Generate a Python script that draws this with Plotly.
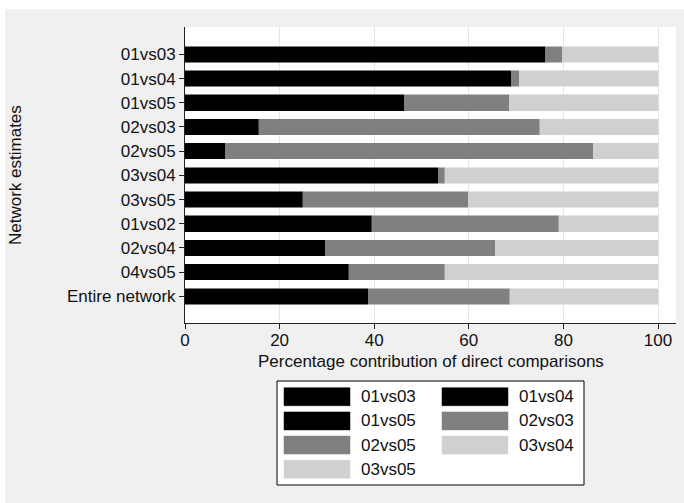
import plotly.graph_objects as go

# Network estimates (rows, top to bottom) and direct comparisons (stack order)
estimates = ["01vs03", "01vs04", "01vs05", "02vs03", "02vs05", "03vs04",
             "03vs05", "01vs02", "02vs04", "04vs05", "Entire network"]
comparisons = ["01vs03", "01vs04", "01vs05", "02vs03", "02vs05", "03vs04", "03vs05"]

# Percentage contribution of each direct comparison to each estimate
c_01vs03 = [54.2, 12.0, 6.0, 6.2, 2.0, 8.0, 6.0, 18.0, 9.0, 3.5, 17.0]
c_01vs04 = [16.6, 54.7, 3.0, 1.6, 0.8, 44.0, 2.5, 6.5, 16.5, 17.0, 12.5]
c_01vs05 = [5.4, 2.3, 37.3, 7.8, 5.7, 1.5, 16.4, 15.0, 4.2, 14.1, 9.2]
c_02vs03 = [2.5, 1.0, 5.2, 50.0, 8.0, 0.9, 9.0, 22.0, 25.0, 4.5, 15.5]
c_02vs05 = [1.0, 0.7, 17.0, 9.4, 69.8, 0.5, 26.0, 17.5, 10.9, 15.8, 14.5]
c_03vs04 = [12.0, 22.0, 4.5, 10.0, 3.2, 40.0, 5.5, 9.0, 28.0, 22.0, 16.5]
c_03vs05 = [8.3, 7.3, 27.0, 15.0, 10.5, 5.1, 34.6, 12.0, 6.4, 23.1, 14.8]

values = [c_01vs03, c_01vs04, c_01vs05, c_02vs03, c_02vs05, c_03vs04, c_03vs05]
colors = ["#000000", "#000000", "#000000", "#808080", "#808080", "#d0d0d0", "#d0d0d0"]

FONT = "Liberation Sans, Arial, Helvetica, sans-serif"
FS = 17
TXT = "#111111"
W, H = 684, 503
L, R, T, B = 185, 8, 27, 180
PW, PH = W - L - R, H - T - B


def px_x(p):
    return (p - L) / PW


def px_y(p):
    return (H - B - p) / PH


fig = go.Figure()
for name, vals, col in zip(comparisons, values, colors):
    fig.add_trace(go.Bar(
        y=estimates, x=vals, name=name, orientation="h",
        marker=dict(color=col, line=dict(color=col, width=0.5)),
        showlegend=False,
    ))

shapes = [
    # white outer strips around the grey page
    dict(type="rect", xref="paper", yref="paper", x0=px_x(0), x1=px_x(W),
         y0=px_y(9), y1=px_y(-2), fillcolor="white", line=dict(width=0), layer="below"),
    dict(type="rect", xref="paper", yref="paper", x0=px_x(-2), x1=px_x(5),
         y0=px_y(H + 2), y1=px_y(-2), fillcolor="white", line=dict(width=0), layer="below"),
]
annotations = []

# legend box
lx0, lx1, ly0, ly1 = 277, 584, 381, 485
shapes.append(dict(type="rect", xref="paper", yref="paper",
                   x0=px_x(lx0), x1=px_x(lx1), y0=px_y(ly1), y1=px_y(ly0),
                   fillcolor="white", line=dict(color="black", width=1)))
col_x = [284, 442]
row_y = [396.7, 420.9, 445.1, 469.3]
for i, (name, col) in enumerate(zip(comparisons, colors)):
    r, c = divmod(i, 2)
    sx, sy = col_x[c], row_y[r]
    shapes.append(dict(type="rect", xref="paper", yref="paper",
                       x0=px_x(sx), x1=px_x(sx + 66), y0=px_y(sy + 9), y1=px_y(sy - 9),
                       fillcolor=col, line=dict(color=col, width=0.5)))
    annotations.append(dict(text=name, xref="paper", yref="paper",
                            x=px_x(sx + 75), y=px_y(sy), xanchor="left", yanchor="middle",
                            showarrow=False, font=dict(family=FONT, size=FS, color=TXT)))

# axis titles
annotations.append(dict(text="Percentage contribution of direct comparisons",
                        xref="paper", yref="paper", x=px_x(431), y=px_y(361),
                        xanchor="center", yanchor="middle", showarrow=False,
                        font=dict(family=FONT, size=FS, color=TXT)))
annotations.append(dict(text="Network estimates", xref="paper", yref="paper",
                        x=px_x(15), y=px_y(175), textangle=-90,
                        xanchor="center", yanchor="middle", showarrow=False,
                        font=dict(family=FONT, size=FS, color=TXT)))

fig.update_layout(
    width=W, height=H,
    margin=dict(l=L, r=R, t=T, b=B),
    paper_bgcolor="#f0f0f0", plot_bgcolor="white",
    barmode="stack", bargap=0.355,
    font=dict(family=FONT, size=FS, color=TXT),
    shapes=shapes, annotations=annotations,
    xaxis=dict(range=[0, 103.8], tickvals=[0, 20, 40, 60, 80, 100],
               showgrid=True, gridcolor="#e6e6e6", gridwidth=1, zeroline=False,
               showline=True, linecolor="#222", linewidth=1,
               ticks="outside", ticklen=5, tickcolor="#222", ticklabelstandoff=-3,
               tickfont=dict(family=FONT, size=FS, color=TXT)),
    yaxis=dict(categoryorder="array", categoryarray=estimates[::-1],
               range=[-1.10, 11.13], showgrid=False, zeroline=False,
               showline=True, linecolor="#222", linewidth=1,
               ticks="outside", ticklen=5, tickcolor="#222",
               tickfont=dict(family=FONT, size=FS, color=TXT)),
)

fig.write_html("out.html")
